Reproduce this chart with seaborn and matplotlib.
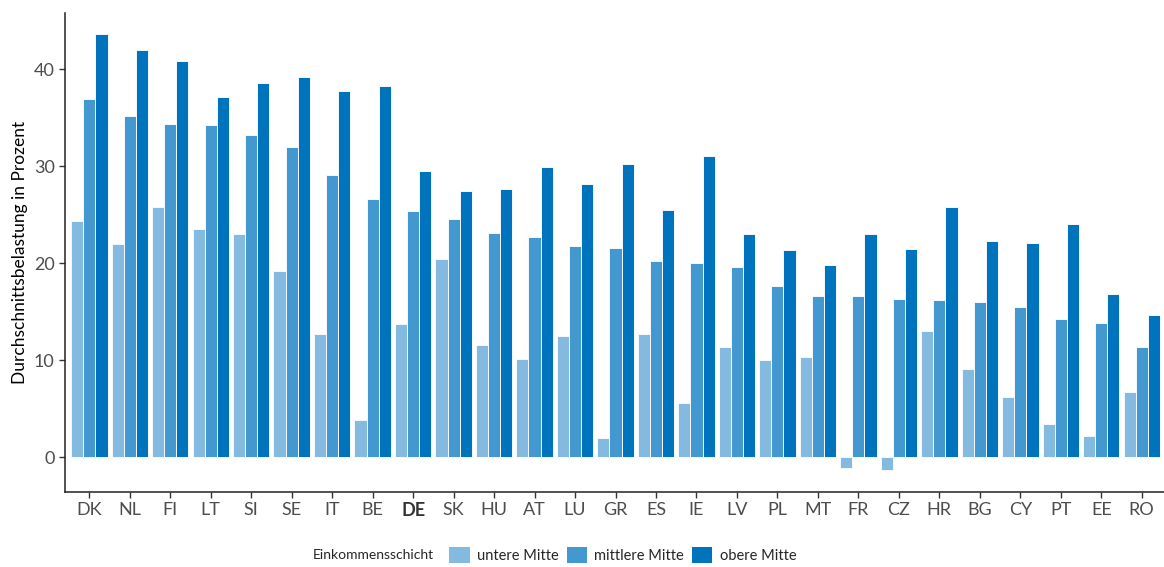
import numpy as np
import pandas as pd
import matplotlib
matplotlib.use("Agg")
import matplotlib.pyplot as plt
import seaborn as sns

sns.set_style("ticks")
plt.rcParams['font.family'] = ['Lato', 'DejaVu Sans']

countries = ['DK', 'NL', 'FI', 'LT', 'SI', 'SE', 'IT', 'BE', 'DE', 'SK', 'HU', 'AT', 'LU', 'GR',
             'ES', 'IE', 'LV', 'PL', 'MT', 'FR', 'CZ', 'HR', 'BG', 'CY', 'PT', 'EE', 'RO']
untere = [24.3, 22.0, 25.8, 23.5, 23.0, 19.2, 12.7, 3.8, 13.7, 20.4, 11.6, 10.1, 12.5, 2.0,
          12.7, 5.6, 11.4, 10.0, 10.3, -1.1, -1.3, 13.0, 9.1, 6.2, 3.4, 2.2, 6.7]
mittlere = [36.9, 35.2, 34.4, 34.3, 33.2, 32.0, 29.1, 26.6, 25.4, 24.6, 23.1, 22.7, 21.8, 21.6,
            20.2, 20.0, 19.6, 17.6, 16.6, 16.6, 16.3, 16.2, 16.0, 15.5, 14.2, 13.8, 11.4]
obere = [43.6, 42.0, 40.9, 37.1, 38.6, 39.2, 37.8, 38.3, 29.5, 27.4, 27.7, 29.9, 28.2, 30.2,
         25.5, 31.1, 23.0, 21.4, 19.8, 23.0, 21.5, 25.8, 22.3, 22.1, 24.0, 16.8, 14.7]
groups = ['untere Mitte', 'mittlere Mitte', 'obere Mitte']
colors = ['#84BAE0', '#4398CF', '#0073BD']

df = pd.DataFrame({
    'Land': countries * 3,
    'Wert': untere + mittlere + obere,
    'Einkommensschicht': [g for g in groups for _ in countries],
})

W, H = 1164, 567
fig = plt.figure(figsize=(W / 100, H / 100), dpi=100)
ax = fig.add_axes([65 / W, 75 / H, (W - 65) / W, (492 - 13) / H])

sns.barplot(data=df, x='Land', y='Wert', hue='Einkommensschicht', hue_order=groups,
            order=countries, palette=colors, saturation=1, width=0.9, gap=0,
            edgecolor='#f4f9fd', linewidth=0.7, ax=ax, legend=False)

ax.set_xlim(-0.6, 26.55)
ax.set_ylim(-3.6, 45.8)
ax.set_yticks([0, 10, 20, 30, 40])
ax.set_xlabel('')
ax.set_ylabel('Durchschnittsbelastung in Prozent', fontsize=12.5, color='black')
sns.despine(ax=ax)
for s in ['left', 'bottom']:
    ax.spines[s].set_color('#222222')
    ax.spines[s].set_linewidth(1.1)
ax.tick_params(axis='both', colors='#333333', labelcolor='#4d4d4d', labelsize=13,
               length=4, width=1)
for lbl in ax.get_xticklabels():
    if lbl.get_text() == 'DE':
        lbl.set_fontweight('bold')
        lbl.set_color('#333333')

handles = [plt.Rectangle((0, 0), 1, 1, facecolor=c, edgecolor='none') for c in colors]
fig.legend(handles, groups, loc='center left', bbox_to_anchor=(436 / W, 12 / H),
           ncol=3, frameon=False, fontsize=10.5, handlelength=1.4, handleheight=1.4,
           handletextpad=0.5, columnspacing=0.55)
fig.text(434 / W, 12 / H, 'Einkommensschicht', ha='right', va='center', fontsize=10)

fig.savefig('out.png', dpi=100)
